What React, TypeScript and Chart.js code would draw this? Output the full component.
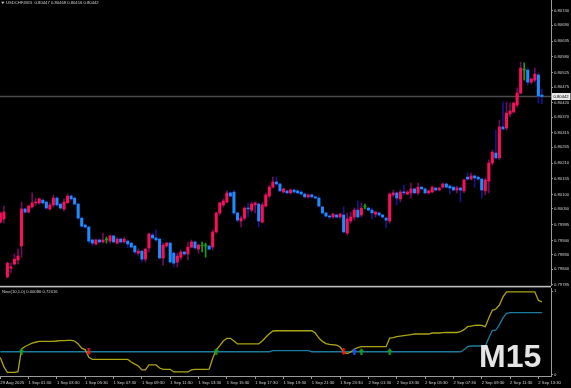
import React, { useEffect, useRef } from "react";
import { Chart, registerables } from "chart.js";

Chart.register(...registerables);

const SYMBOL_HEADER = "USDCHF,M15  0.80447 0.80468 0.80416 0.80442";
const INDICATOR_HEADER = "Nine(10,1.0) 0.00086 0.72016";
const TIMEFRAME = "M15";

// OHLC of the 154 M15 bars (29 Aug 23:30 .. 2 Sep 13:45)
const openP = [
  0.80004, 0.80015, 0.79813, 0.79844, 0.79858, 0.79872, 0.79921, 0.80050, 0.80039, 0.80057,
  0.80071, 0.80071, 0.80081, 0.80074, 0.80050, 0.80064, 0.80088, 0.80067, 0.80050, 0.80071,
  0.80095, 0.80088, 0.80067, 0.80018, 0.79994, 0.79987, 0.79942, 0.79928, 0.79942, 0.79935,
  0.79942, 0.79938, 0.79956, 0.79931, 0.79945, 0.79935, 0.79938, 0.79931, 0.79921, 0.79896,
  0.79903, 0.79875, 0.79914, 0.79959, 0.79949, 0.79945, 0.79879, 0.79921, 0.79931, 0.79896,
  0.79865, 0.79882, 0.79900, 0.79893, 0.79917, 0.79935, 0.79910, 0.79921, 0.79921, 0.79921,
  0.79917, 0.79970, 0.80036, 0.80064, 0.80074, 0.80106, 0.80109, 0.80036, 0.80008, 0.80018,
  0.80053, 0.80046, 0.80064, 0.80067, 0.80004, 0.80060, 0.80095, 0.80126, 0.80144, 0.80137,
  0.80109, 0.80113, 0.80106, 0.80116, 0.80113, 0.80109, 0.80102, 0.80092, 0.80099, 0.80092,
  0.80088, 0.80057, 0.80036, 0.80025, 0.80022, 0.80029, 0.80022, 0.80029, 0.79966, 0.80008,
  0.80022, 0.80046, 0.80029, 0.80057, 0.80053, 0.80046, 0.80032, 0.80036, 0.80029, 0.80018,
  0.80008, 0.80099, 0.80106, 0.80085, 0.80109, 0.80102, 0.80106, 0.80120, 0.80106, 0.80126,
  0.80120, 0.80106, 0.80109, 0.80123, 0.80116, 0.80126, 0.80137, 0.80130, 0.80126, 0.80116,
  0.80123, 0.80113, 0.80161, 0.80154, 0.80165, 0.80161, 0.80154, 0.80113, 0.80147, 0.80210,
  0.80245, 0.80228, 0.80336, 0.80332, 0.80381, 0.80388, 0.80412, 0.80454, 0.80534, 0.80534,
  0.80492, 0.80499, 0.80517, 0.80447,
];
const highP = [
  0.80039, 0.80060, 0.79865, 0.79861, 0.79893, 0.79910, 0.80074, 0.80053, 0.80064, 0.80106,
  0.80088, 0.80088, 0.80085, 0.80078, 0.80071, 0.80099, 0.80092, 0.80071, 0.80085, 0.80102,
  0.80099, 0.80092, 0.80071, 0.80022, 0.79997, 0.79990, 0.79945, 0.79945, 0.79945, 0.79966,
  0.79952, 0.79959, 0.79959, 0.79949, 0.79949, 0.79952, 0.79942, 0.79935, 0.79924, 0.79910,
  0.79907, 0.79914, 0.79966, 0.79966, 0.79977, 0.79949, 0.79931, 0.79935, 0.79935, 0.79900,
  0.79896, 0.79907, 0.79903, 0.79935, 0.79942, 0.79938, 0.79928, 0.79935, 0.79931, 0.79924,
  0.79977, 0.80039, 0.80074, 0.80085, 0.80113, 0.80109, 0.80116, 0.80039, 0.80025, 0.80057,
  0.80071, 0.80074, 0.80074, 0.80071, 0.80071, 0.80106, 0.80133, 0.80161, 0.80161, 0.80140,
  0.80123, 0.80116, 0.80120, 0.80120, 0.80116, 0.80113, 0.80106, 0.80102, 0.80102, 0.80095,
  0.80092, 0.80060, 0.80039, 0.80029, 0.80036, 0.80032, 0.80036, 0.80057, 0.80036, 0.80039,
  0.80053, 0.80078, 0.80071, 0.80067, 0.80057, 0.80053, 0.80043, 0.80039, 0.80032, 0.80022,
  0.80106, 0.80116, 0.80109, 0.80116, 0.80133, 0.80113, 0.80140, 0.80123, 0.80140, 0.80130,
  0.80123, 0.80116, 0.80130, 0.80126, 0.80126, 0.80140, 0.80140, 0.80133, 0.80130, 0.80130,
  0.80126, 0.80154, 0.80175, 0.80175, 0.80168, 0.80165, 0.80158, 0.80158, 0.80221, 0.80255,
  0.80325, 0.80360, 0.80423, 0.80423, 0.80419, 0.80423, 0.80472, 0.80562, 0.80559, 0.80541,
  0.80506, 0.80541, 0.80524, 0.80468,
];
const lowP = [
  0.80001, 0.80001, 0.79809, 0.79827, 0.79854, 0.79858, 0.79882, 0.80036, 0.80036, 0.80053,
  0.80064, 0.80067, 0.80067, 0.80050, 0.80046, 0.80057, 0.80060, 0.80050, 0.80043, 0.80071,
  0.80081, 0.80064, 0.80015, 0.79987, 0.79984, 0.79931, 0.79924, 0.79924, 0.79931, 0.79931,
  0.79931, 0.79931, 0.79931, 0.79928, 0.79931, 0.79931, 0.79914, 0.79914, 0.79893, 0.79889,
  0.79865, 0.79865, 0.79900, 0.79945, 0.79938, 0.79875, 0.79854, 0.79917, 0.79861, 0.79848,
  0.79848, 0.79872, 0.79889, 0.79872, 0.79914, 0.79910, 0.79896, 0.79900, 0.79882, 0.79907,
  0.79907, 0.79966, 0.80029, 0.80057, 0.80071, 0.80092, 0.80029, 0.80004, 0.79987, 0.80011,
  0.80022, 0.80039, 0.80036, 0.79987, 0.80001, 0.80057, 0.80088, 0.80123, 0.80133, 0.80109,
  0.80106, 0.80102, 0.80102, 0.80106, 0.80102, 0.80099, 0.80088, 0.80088, 0.80088, 0.80085,
  0.80057, 0.80032, 0.80022, 0.80015, 0.80018, 0.80018, 0.80018, 0.79966, 0.79959, 0.80001,
  0.80011, 0.80018, 0.80022, 0.80050, 0.80043, 0.80015, 0.80022, 0.80025, 0.80018, 0.79984,
  0.80001, 0.80092, 0.80064, 0.80074, 0.80099, 0.80099, 0.80088, 0.80102, 0.80099, 0.80116,
  0.80102, 0.80102, 0.80106, 0.80113, 0.80113, 0.80123, 0.80123, 0.80102, 0.80113, 0.80106,
  0.80074, 0.80106, 0.80151, 0.80151, 0.80126, 0.80151, 0.80088, 0.80099, 0.80106, 0.80203,
  0.80224, 0.80221, 0.80325, 0.80325, 0.80371, 0.80384, 0.80405, 0.80451, 0.80499, 0.80482,
  0.80486, 0.80492, 0.80419, 0.80416,
];
const closeP = [
  0.80036, 0.80039, 0.79861, 0.79848, 0.79875, 0.79886, 0.80050, 0.80039, 0.80060, 0.80071,
  0.80074, 0.80085, 0.80071, 0.80053, 0.80064, 0.80088, 0.80064, 0.80053, 0.80074, 0.80095,
  0.80085, 0.80067, 0.80018, 0.79990, 0.79987, 0.79938, 0.79931, 0.79942, 0.79935, 0.79942,
  0.79942, 0.79956, 0.79935, 0.79945, 0.79935, 0.79945, 0.79928, 0.79917, 0.79900, 0.79903,
  0.79875, 0.79910, 0.79963, 0.79949, 0.79942, 0.79879, 0.79924, 0.79931, 0.79865, 0.79861,
  0.79886, 0.79900, 0.79893, 0.79917, 0.79935, 0.79914, 0.79924, 0.79921, 0.79921, 0.79910,
  0.79970, 0.80036, 0.80071, 0.80078, 0.80106, 0.80095, 0.80036, 0.80011, 0.80018, 0.80053,
  0.80050, 0.80067, 0.80071, 0.80008, 0.80064, 0.80099, 0.80126, 0.80144, 0.80137, 0.80113,
  0.80120, 0.80106, 0.80116, 0.80109, 0.80106, 0.80102, 0.80092, 0.80099, 0.80092, 0.80088,
  0.80060, 0.80036, 0.80025, 0.80022, 0.80032, 0.80022, 0.80032, 0.79970, 0.80015, 0.80022,
  0.80046, 0.80022, 0.80053, 0.80057, 0.80046, 0.80036, 0.80039, 0.80029, 0.80022, 0.80011,
  0.80102, 0.80106, 0.80088, 0.80109, 0.80106, 0.80109, 0.80120, 0.80106, 0.80126, 0.80120,
  0.80106, 0.80113, 0.80126, 0.80116, 0.80123, 0.80137, 0.80126, 0.80123, 0.80116, 0.80123,
  0.80116, 0.80151, 0.80154, 0.80165, 0.80158, 0.80154, 0.80116, 0.80151, 0.80210, 0.80248,
  0.80228, 0.80336, 0.80329, 0.80384, 0.80391, 0.80419, 0.80454, 0.80541, 0.80534, 0.80492,
  0.80503, 0.80520, 0.80444, 0.80442,
];

// indicator window lines (0..1 scale)
const signalLine = [
  0.21, 0.10, 0.03, 0.03, 0.03, 0.04, 0.31, 0.34, 0.36, 0.38,
  0.39, 0.40, 0.40, 0.40, 0.40, 0.40, 0.405, 0.41, 0.41, 0.413,
  0.413, 0.405, 0.37, 0.32, 0.30, 0.21, 0.187, 0.187, 0.187, 0.187,
  0.187, 0.187, 0.187, 0.187, 0.187, 0.187, 0.185, 0.155, 0.13, 0.107,
  0.06, 0.06, 0.12, 0.12, 0.12, 0.083, 0.068, 0.068, 0.068, 0.036,
  0.036, 0.036, 0.036, 0.036, 0.06, 0.068, 0.068, 0.068, 0.068, 0.07,
  0.20, 0.30, 0.35, 0.405, 0.437, 0.437, 0.405, 0.37, 0.37, 0.37,
  0.37, 0.37, 0.37, 0.37, 0.405, 0.45, 0.49, 0.524, 0.527, 0.527,
  0.527, 0.527, 0.527, 0.527, 0.527, 0.527, 0.527, 0.527, 0.527, 0.50,
  0.44, 0.40, 0.373, 0.365, 0.36, 0.357, 0.333, 0.274, 0.256, 0.274,
  0.31, 0.327, 0.337, 0.337, 0.337, 0.337, 0.337, 0.337, 0.337, 0.337,
  0.44, 0.446, 0.456, 0.464, 0.47, 0.476, 0.482, 0.488, 0.488, 0.488,
  0.488, 0.488, 0.50, 0.50, 0.50, 0.504, 0.506, 0.506, 0.506, 0.506,
  0.515, 0.54, 0.575, 0.583, 0.59, 0.595, 0.59, 0.575, 0.68, 0.77,
  0.786, 0.833, 0.93, 0.99, 0.99, 0.99, 0.99, 0.99, 0.99, 0.99,
  0.99, 0.99, 0.89, 0.87,
];
const baseLine = [
  0.277, 0.277, 0.277, 0.277, 0.277, 0.277, 0.277, 0.277, 0.277, 0.277,
  0.277, 0.277, 0.277, 0.277, 0.277, 0.277, 0.277, 0.277, 0.277, 0.277,
  0.277, 0.277, 0.277, 0.277, 0.277, 0.277, 0.277, 0.277, 0.277, 0.277,
  0.277, 0.277, 0.277, 0.277, 0.277, 0.277, 0.277, 0.277, 0.277, 0.277,
  0.277, 0.277, 0.277, 0.277, 0.277, 0.277, 0.277, 0.277, 0.277, 0.277,
  0.277, 0.277, 0.277, 0.277, 0.277, 0.277, 0.277, 0.277, 0.277, 0.277,
  0.277, 0.277, 0.277, 0.277, 0.277, 0.277, 0.277, 0.277, 0.277, 0.277,
  0.277, 0.277, 0.277, 0.277, 0.277, 0.277, 0.277, 0.29, 0.29, 0.29,
  0.29, 0.29, 0.29, 0.29, 0.29, 0.29, 0.29, 0.29, 0.277, 0.277,
  0.277, 0.277, 0.277, 0.277, 0.277, 0.277, 0.277, 0.277, 0.277, 0.277,
  0.277, 0.277, 0.277, 0.277, 0.277, 0.277, 0.277, 0.277, 0.277, 0.277,
  0.277, 0.277, 0.277, 0.277, 0.277, 0.277, 0.277, 0.277, 0.277, 0.277,
  0.277, 0.277, 0.277, 0.277, 0.277, 0.277, 0.277, 0.277, 0.277, 0.277,
  0.277, 0.30, 0.337, 0.345, 0.345, 0.345, 0.345, 0.345, 0.44, 0.53,
  0.536, 0.60, 0.68, 0.735, 0.742, 0.742, 0.742, 0.742, 0.742, 0.742,
  0.742, 0.742, 0.742, 0.742,
];

const upArrowIdx = [6, 61, 102, 110];
const downArrowIdx = [25, 97];
const blueArrowIdx = [100];

const timeTickIdx = [0, 8, 16, 24, 32, 40, 48, 56, 64, 72, 80, 88, 96, 104, 112, 120, 128, 136, 144, 152];
const timeLabels = [
  "29 Aug 2025", "1 Sep 01:30", "1 Sep 03:30", "1 Sep 05:30", "1 Sep 07:30",
  "1 Sep 09:30", "1 Sep 11:30", "1 Sep 13:30", "1 Sep 15:30", "1 Sep 17:30",
  "1 Sep 19:30", "1 Sep 21:30", "1 Sep 23:30", "2 Sep 01:30", "2 Sep 03:30",
  "2 Sep 05:30", "2 Sep 07:30", "2 Sep 09:30", "2 Sep 11:30", "2 Sep 13:30",
];
const priceTicks = [
  0.8074, 0.8069, 0.80635, 0.8058, 0.80525, 0.80475, 0.8042, 0.8037, 0.80315, 0.80265,
  0.8021, 0.80155, 0.801, 0.8005, 0.79995, 0.7994, 0.7989, 0.7984, 0.79785,
];
const indicatorTicks = [0, 1];

// view ranges / styling
const X_MIN = -0.085;
const X_MAX = 155.57;
const PRICE_MIN = 0.797815;
const PRICE_MAX = 0.807783;
const IND_MIN = -0.012;
const IND_MAX = 1.036;

const BULL_BODY = "#f8105a";
const BULL_WICK = "#700c5e";
const BEAR_BODY = "#1e8cff";
const BEAR_WICK = "#16168a";
const DOJI = "#16a016";
const YELLOW = "#aca414";
const TEAL = "#1c7c9c";
const TEXT = "#d0d0d0";
const AXIS = "#9a9a9a";
const FONT = "Liberation Sans";
const FS = 4.2;

function makeArrow(color: string, up: boolean): HTMLCanvasElement {
  const c = document.createElement("canvas");
  c.width = 5;
  c.height = 7;
  const g = c.getContext("2d")!;
  g.fillStyle = color;
  g.beginPath();
  if (up) {
    g.moveTo(2.5, 0);
    g.lineTo(5, 3);
    g.lineTo(3.6, 3);
    g.lineTo(3.6, 7);
    g.lineTo(1.4, 7);
    g.lineTo(1.4, 3);
    g.lineTo(0, 3);
  } else {
    g.moveTo(2.5, 7);
    g.lineTo(5, 4);
    g.lineTo(3.6, 4);
    g.lineTo(3.6, 0);
    g.lineTo(1.4, 0);
    g.lineTo(1.4, 4);
    g.lineTo(0, 4);
  }
  g.closePath();
  g.fill();
  return c;
}

export default function App() {
  const mainRef = useRef<HTMLCanvasElement>(null);
  const subRef = useRef<HTMLCanvasElement>(null);

  useEffect(() => {
    const idx = closeP.map((_, i) => i);
    const bodyData = idx.map((i) => ({ x: i, y: [openP[i], closeP[i]] }));
    const wickData = idx.map((i) => ({ x: i, y: [lowP[i], highP[i]] }));
    const bodyColors = idx.map((i) =>
      closeP[i] > openP[i] ? BULL_BODY : closeP[i] < openP[i] ? BEAR_BODY : DOJI
    );
    const wickColors = idx.map((i) =>
      closeP[i] > openP[i] ? BULL_WICK : closeP[i] < openP[i] ? BEAR_WICK : DOJI
    );
    const lastClose = closeP[closeP.length - 1];

    const mainPlugin = {
      id: "mt4main",
      beforeDatasetsDraw(chart: any) {
        const { ctx, chartArea, scales } = chart;
        const y = scales.y.getPixelForValue(lastClose);
        ctx.save();
        ctx.strokeStyle = "#4a4a4a";
        ctx.lineWidth = 1.6;
        ctx.beginPath();
        ctx.moveTo(chartArea.left, y);
        ctx.lineTo(chartArea.right, y);
        ctx.stroke();
        ctx.restore();
      },
      afterDraw(chart: any) {
        const { ctx, chartArea, scales } = chart;
        const y = scales.y.getPixelForValue(lastClose);
        ctx.save();
        ctx.fillStyle = "#e8e8e8";
        ctx.fillRect(chartArea.right + 1, y - 3.5, 18.5, 7);
        ctx.fillStyle = "#000";
        ctx.font = `${FS}px "${FONT}"`;
        ctx.textBaseline = "middle";
        ctx.textAlign = "left";
        ctx.fillText(lastClose.toFixed(5), chartArea.right + 2.5, y + 0.3);
        ctx.fillStyle = TEXT;
        ctx.fillText(SYMBOL_HEADER, 6, 3.2);
        ctx.beginPath();
        ctx.moveTo(1.2, 1.8);
        ctx.lineTo(4.4, 1.8);
        ctx.lineTo(2.8, 4);
        ctx.closePath();
        ctx.fill();
        ctx.restore();
      },
    };

    const main = new Chart(mainRef.current!, {
      type: "bar",
      data: {
        datasets: [
          {
            label: "body",
            data: bodyData as any,
            backgroundColor: bodyColors,
            borderWidth: 0,
            barPercentage: 1,
            categoryPercentage: 1,
            maxBarThickness: 2.4,
            grouped: false,
            minBarLength: 1,
            order: 0,
          } as any,
          {
            label: "wick",
            data: wickData as any,
            backgroundColor: wickColors,
            borderWidth: 0,
            barPercentage: 1,
            categoryPercentage: 1,
            maxBarThickness: 1,
            grouped: false,
            order: 1,
          } as any,
        ],
      },
      options: {
        responsive: false,
        animation: false,
        devicePixelRatio: 1,
        events: [],
        layout: { padding: 0, autoPadding: false } as any,
        plugins: { legend: { display: false }, tooltip: { enabled: false } },
        scales: {
          x: { type: "linear", min: X_MIN, max: X_MAX, offset: false, display: false },
          y: {
            type: "linear",
            position: "right",
            min: PRICE_MIN,
            max: PRICE_MAX,
            beginAtZero: false,
            afterBuildTicks: (s: any) => {
              s.ticks = priceTicks.map((v) => ({ value: v }));
            },
            afterFit: (s: any) => {
              s.width = 20;
              s.paddingTop = 0;
              s.paddingBottom = 0;
            },
            ticks: {
              color: TEXT,
              font: { size: FS, family: FONT },
              padding: 1,
              autoSkip: false,
              callback: (v: any) => Number(v).toFixed(5),
            },
            grid: { display: true, drawOnChartArea: false, drawTicks: true, tickLength: 2, color: AXIS },
            border: { display: true, color: AXIS, width: 1 },
          } as any,
        },
      },
      plugins: [mainPlugin],
    });

    const subPlugin = {
      id: "mt4sub",
      afterDraw(chart: any) {
        const { ctx, chartArea } = chart;
        ctx.save();
        ctx.fillStyle = "#bdbdbd";
        ctx.fillRect(0, 0.8, chartArea.right, 1.6);
        ctx.fillStyle = TEXT;
        ctx.font = `${FS}px "${FONT}"`;
        ctx.textBaseline = "middle";
        ctx.textAlign = "left";
        ctx.fillText(INDICATOR_HEADER, 2, 7);
        ctx.font = `bold 32px "${FONT}"`;
        ctx.fillStyle = "#e4e4e4";
        ctx.textBaseline = "alphabetic";
        ctx.fillText(TIMEFRAME, 479, 82);
        ctx.restore();
      },
    };

    const arrowSet = (label: string, list: number[], img: HTMLCanvasElement) => ({
      label,
      data: list.map((i) => ({ x: i, y: baseLine[i] })),
      showLine: false,
      pointStyle: img,
      pointRadius: 3,
      order: 0,
    });

    const sub = new Chart(subRef.current!, {
      type: "line",
      data: {
        datasets: [
          arrowSet("up", upArrowIdx, makeArrow("#1aa01a", true)) as any,
          arrowSet("down", downArrowIdx, makeArrow("#f01818", false)) as any,
          arrowSet("blue", blueArrowIdx, makeArrow("#2050ff", true)) as any,
          {
            label: "signal",
            data: signalLine.map((v, i) => ({ x: i, y: v })),
            borderColor: YELLOW,
            borderWidth: 1.3,
            pointRadius: 0,
            tension: 0,
            order: 1,
          },
          {
            label: "base",
            data: baseLine.map((v, i) => ({ x: i, y: v })),
            borderColor: TEAL,
            borderWidth: 1.3,
            pointRadius: 0,
            tension: 0,
            order: 2,
          },
        ],
      },
      options: {
        responsive: false,
        animation: false,
        devicePixelRatio: 1,
        events: [],
        layout: { padding: { top: 3, left: 0, right: 0, bottom: 0 }, autoPadding: false } as any,
        plugins: { legend: { display: false }, tooltip: { enabled: false } },
        scales: {
          x: {
            type: "linear",
            min: X_MIN,
            max: X_MAX,
            offset: false,
            afterBuildTicks: (s: any) => {
              s.ticks = timeTickIdx.map((v) => ({ value: v }));
            },
            afterFit: (s: any) => {
              s.height = 12;
              s.paddingLeft = 0;
              s.paddingRight = 0;
            },
            ticks: {
              color: TEXT,
              font: { size: FS, family: FONT },
              align: "start",
              padding: 1,
              autoSkip: false,
              maxRotation: 0,
              minRotation: 0,
              callback: (v: any) => {
                const k = timeTickIdx.indexOf(Number(v));
                return k >= 0 ? timeLabels[k] : "";
              },
            },
            grid: { display: true, drawOnChartArea: false, drawTicks: true, tickLength: 3, color: AXIS },
            border: { display: true, color: AXIS, width: 1 },
          } as any,
          y: {
            type: "linear",
            position: "right",
            min: IND_MIN,
            max: IND_MAX,
            afterBuildTicks: (s: any) => {
              s.ticks = indicatorTicks.map((v) => ({ value: v }));
            },
            afterFit: (s: any) => {
              s.width = 20;
              s.paddingTop = 0;
              s.paddingBottom = 0;
            },
            ticks: {
              color: TEXT,
              font: { size: FS, family: FONT },
              padding: 1,
              autoSkip: false,
              callback: (v: any) => String(v),
            },
            grid: { display: true, drawOnChartArea: false, drawTicks: true, tickLength: 2, color: AXIS },
            border: { display: true, color: AXIS, width: 1 },
          } as any,
        },
      },
      plugins: [subPlugin],
    });

    return () => {
      main.destroy();
      sub.destroy();
    };
  }, []);

  return (
    <div
      style={{
        position: "fixed",
        left: 0,
        top: 0,
        width: 571,
        height: 388,
        background: "#000",
        overflow: "hidden",
      }}
    >
      <canvas
        ref={mainRef}
        width={571}
        height={286}
        style={{ position: "absolute", left: 0, top: 0, width: 571, height: 286 }}
      />
      <canvas
        ref={subRef}
        width={571}
        height={103}
        style={{ position: "absolute", left: 0, top: 285, width: 571, height: 103 }}
      />
    </div>
  );
}
